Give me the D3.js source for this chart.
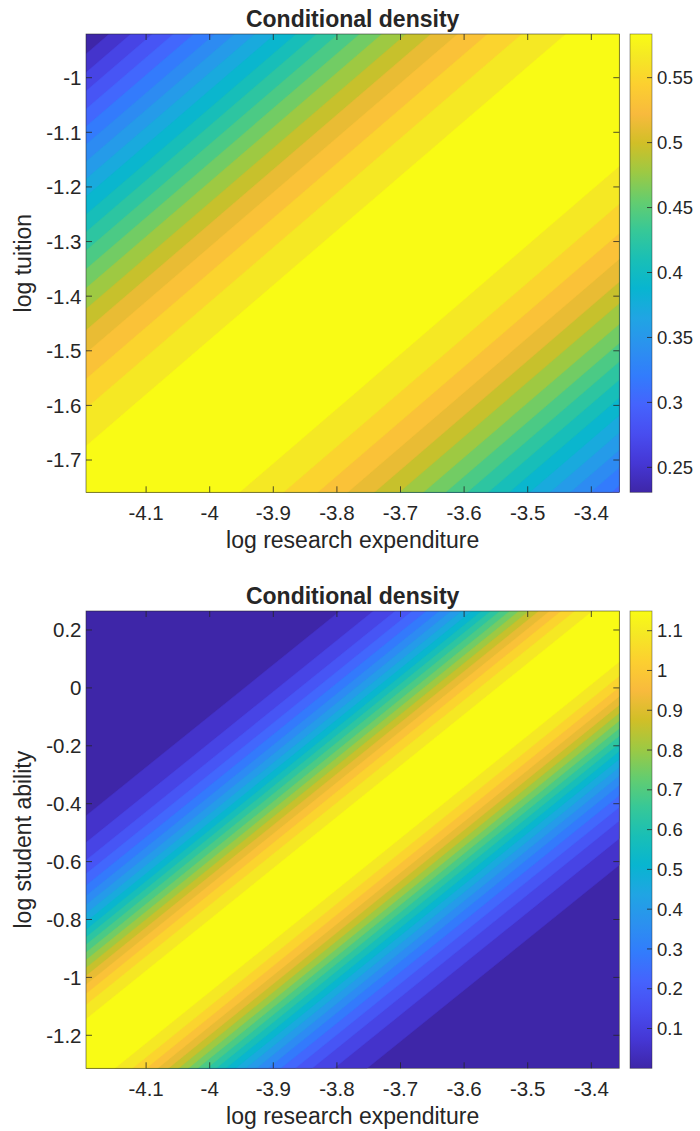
<!DOCTYPE html>
<html>
<head>
<meta charset="utf-8">
<script src="https://cdn.jsdelivr.net/npm/d3@7"></script>
<style>
  body { margin: 0; background: #fff; }
  svg { display: block; }
  text { font-family: "Liberation Sans", Arial, Helvetica, sans-serif; fill: #262626; }
</style>
</head>
<body>
<svg width="700" height="1131"></svg>
<script>
// ticks
var xTicks = [-4.1, -4, -3.9, -3.8, -3.7, -3.6, -3.5, -3.4];
var topYTicks = [-1.7, -1.6, -1.5, -1.4, -1.3, -1.2, -1.1, -1];
var botYTicks = [-1.2, -1, -0.8, -0.6, -0.4, -0.2, 0, 0.2];
var topCbarTicks = [0.25, 0.3, 0.35, 0.4, 0.45, 0.5, 0.55];
var botCbarTicks = [0.1, 0.2, 0.3, 0.4, 0.5, 0.6, 0.7, 0.8, 0.9, 1, 1.1];

var xRange = [-4.1945, -3.356];
var topYRange = [-1.7591, -0.92];
var botYRange = [-1.314, 0.2656];
var topZRange = [0.2308, 0.5836];
var botZRange = [0, 1.1495];

// contour levels (20 each)
var topLevels = [0.2478, 0.2646, 0.2814, 0.2982, 0.3151, 0.3319, 0.3487, 0.3655, 0.3823, 0.3991,
                 0.4159, 0.4327, 0.4495, 0.4663, 0.4832, 0.5000, 0.5168, 0.5336, 0.5504, 0.5672];
var botLevels = [0.0548, 0.1095, 0.1643, 0.2190, 0.2738, 0.3286, 0.3833, 0.4381, 0.4928, 0.5476,
                 0.6024, 0.6571, 0.7119, 0.7667, 0.8214, 0.8762, 0.9309, 0.9857, 1.0404, 1.0952];

// contour lines are straight: y = slope*x + c, one c above and one below the ridge per level
var topSlope = 1.0;
var topUpper = [3.238, 3.204, 3.170, 3.137, 3.105, 3.072, 3.041, 3.009, 2.977, 2.944,
                2.912, 2.878, 2.844, 2.809, 2.771, 2.732, 2.690, 2.643, 2.589, 2.520];
var topLower = [1.476, 1.510, 1.544, 1.577, 1.609, 1.642, 1.674, 1.706, 1.738, 1.770,
                1.803, 1.836, 1.870, 1.905, 1.943, 1.982, 2.024, 2.071, 2.125, 2.194];
var botSlope = 1.77;
var botUpper = [6.983, 6.890, 6.829, 6.782, 6.742, 6.706, 6.674, 6.644, 6.616, 6.589,
                6.563, 6.537, 6.510, 6.484, 6.457, 6.429, 6.399, 6.367, 6.329, 6.280];
var botLower = [5.328, 5.420, 5.481, 5.528, 5.568, 5.604, 5.636, 5.666, 5.694, 5.721,
                5.748, 5.774, 5.800, 5.826, 5.853, 5.881, 5.911, 5.943, 5.981, 6.030];

// parula
var parulaColors = ["#3e26a8", "#4537d5", "#484df0", "#4563fd", "#327cfc", "#2b91ef", "#20a5e3", "#08b5d0",
  "#19bfb6", "#37c897", "#64cd6f", "#9dc943", "#d1bf27", "#f8ba3d", "#fccf30", "#f5e924", "#f9fb15"];
var parulaPos = [0, 4, 8, 12, 16, 20, 24, 28, 32, 36, 40, 44, 48, 52, 56, 60, 63].map(function(d) { return d / 63; });
var parula = d3.scaleLinear().domain(parulaPos).range(parulaColors).interpolate(d3.interpolateRgb).clamp(true);

var svg = d3.select("svg");
var ink = "#262626";

function fmt(d) { return String(+d.toFixed(2)); }

// gradient for colorbars
var grad = svg.append("defs").append("linearGradient")
  .attr("id", "parula").attr("x1", 0).attr("y1", 1).attr("x2", 0).attr("y2", 0);
parulaPos.forEach(function(p, i) {
  grad.append("stop").attr("offset", p).attr("stop-color", parulaColors[i]);
});

function panel(o) {
  var left = 86, right = 619.3;
  var x = d3.scaleLinear().domain(xRange).range([left, right]);
  var y = d3.scaleLinear().domain(o.yRange).range([o.bottom, o.top]);
  // band colour: lowest region = min, highest band = max
  var lev = d3.scaleLinear().domain([o.zRange[0], o.levels[o.levels.length - 1]]).range([0, 1]);

  svg.select("defs").append("clipPath").attr("id", o.id + "clip")
    .append("rect").attr("x", left).attr("y", o.top).attr("width", right - left).attr("height", o.bottom - o.top);

  var g = svg.append("g").attr("clip-path", "url(#" + o.id + "clip)");
  g.append("rect").attr("x", left).attr("y", o.top).attr("width", right - left).attr("height", o.bottom - o.top)
    .attr("fill", parula(0));

  var x0 = xRange[0] - 1, x1 = xRange[1] + 1;
  var bands = o.levels.map(function(l, i) { return {level: l, up: o.upper[i], lo: o.lower[i]}; });
  g.selectAll("path.band").data(bands).enter().append("path")
    .attr("class", "band")
    .attr("d", function(d) {
      var pts = [[x0, o.slope * x0 + d.lo], [x1, o.slope * x1 + d.lo],
                 [x1, o.slope * x1 + d.up], [x0, o.slope * x0 + d.up]];
      return "M" + pts.map(function(p) { return x(p[0]) + "," + y(p[1]); }).join("L") + "Z";
    })
    .attr("fill", function(d) { return parula(lev(d.level)); })
    .attr("stroke", function(d) { return parula(lev(d.level)); })
    .attr("stroke-width", 0.4);

  // box + inward ticks on all sides
  svg.append("rect").attr("x", left).attr("y", o.top).attr("width", right - left).attr("height", o.bottom - o.top)
    .attr("fill", "none").attr("stroke", ink).attr("stroke-width", 0.7).attr("stroke-opacity", 0.75);
  var tk = svg.append("g").attr("stroke", ink).attr("stroke-width", 0.8);
  xTicks.forEach(function(t) {
    tk.append("line").attr("x1", x(t)).attr("x2", x(t)).attr("y1", o.bottom).attr("y2", o.bottom - 6);
    tk.append("line").attr("x1", x(t)).attr("x2", x(t)).attr("y1", o.top).attr("y2", o.top + 6);
  });
  o.yTicks.forEach(function(t) {
    tk.append("line").attr("x1", left).attr("x2", left + 6).attr("y1", y(t)).attr("y2", y(t));
    tk.append("line").attr("x1", right).attr("x2", right - 6).attr("y1", y(t)).attr("y2", y(t));
  });

  svg.append("g").selectAll("text").data(xTicks).enter().append("text")
    .attr("x", function(d) { return x(d); }).attr("y", o.bottom + 28)
    .attr("text-anchor", "middle").attr("font-size", 20.5).text(fmt);
  svg.append("g").selectAll("text").data(o.yTicks).enter().append("text")
    .attr("x", 81.5).attr("y", function(d) { return y(d); }).attr("dy", "0.36em")
    .attr("text-anchor", "end").attr("font-size", 20.5).text(fmt);

  svg.append("text").attr("x", (left + right) / 2).attr("y", o.top - 7)
    .attr("text-anchor", "middle").attr("font-size", 23).attr("font-weight", "bold").attr("fill", "#000")
    .text("Conditional density");
  svg.append("text").attr("x", (left + right) / 2).attr("y", o.bottom + 56)
    .attr("text-anchor", "middle").attr("font-size", 23).text("log research expenditure");
  svg.append("text").attr("transform", "translate(31," + (o.top + o.bottom) / 2 + ") rotate(-90)")
    .attr("text-anchor", "middle").attr("font-size", 23).text(o.yLabel);

  // colorbar
  var cx0 = 630, cx1 = 652;
  var c = d3.scaleLinear().domain(o.zRange).range([o.bottom, o.top]);
  svg.append("rect").attr("x", cx0).attr("y", o.top).attr("width", cx1 - cx0).attr("height", o.bottom - o.top)
    .attr("fill", "url(#parula)").attr("stroke", ink).attr("stroke-width", 0.7).attr("stroke-opacity", 0.6);
  o.cTicks.forEach(function(t) {
    svg.append("line").attr("x1", cx1).attr("x2", cx1 - 5).attr("y1", c(t)).attr("y2", c(t))
      .attr("stroke", ink).attr("stroke-width", 0.8);
  });
  svg.append("g").selectAll("text").data(o.cTicks).enter().append("text")
    .attr("x", 657).attr("y", function(d) { return c(d); }).attr("dy", "0.36em")
    .attr("font-size", 18.5).text(fmt);
}

panel({id: "top", top: 34, bottom: 492.3, yRange: topYRange, yTicks: topYTicks, zRange: topZRange,
  levels: topLevels, slope: topSlope, upper: topUpper, lower: topLower, cTicks: topCbarTicks, yLabel: "log tuition"});
panel({id: "bot", top: 611, bottom: 1068.3, yRange: botYRange, yTicks: botYTicks, zRange: botZRange,
  levels: botLevels, slope: botSlope, upper: botUpper, lower: botLower, cTicks: botCbarTicks, yLabel: "log student ability"});
</script>
</body>
</html>
